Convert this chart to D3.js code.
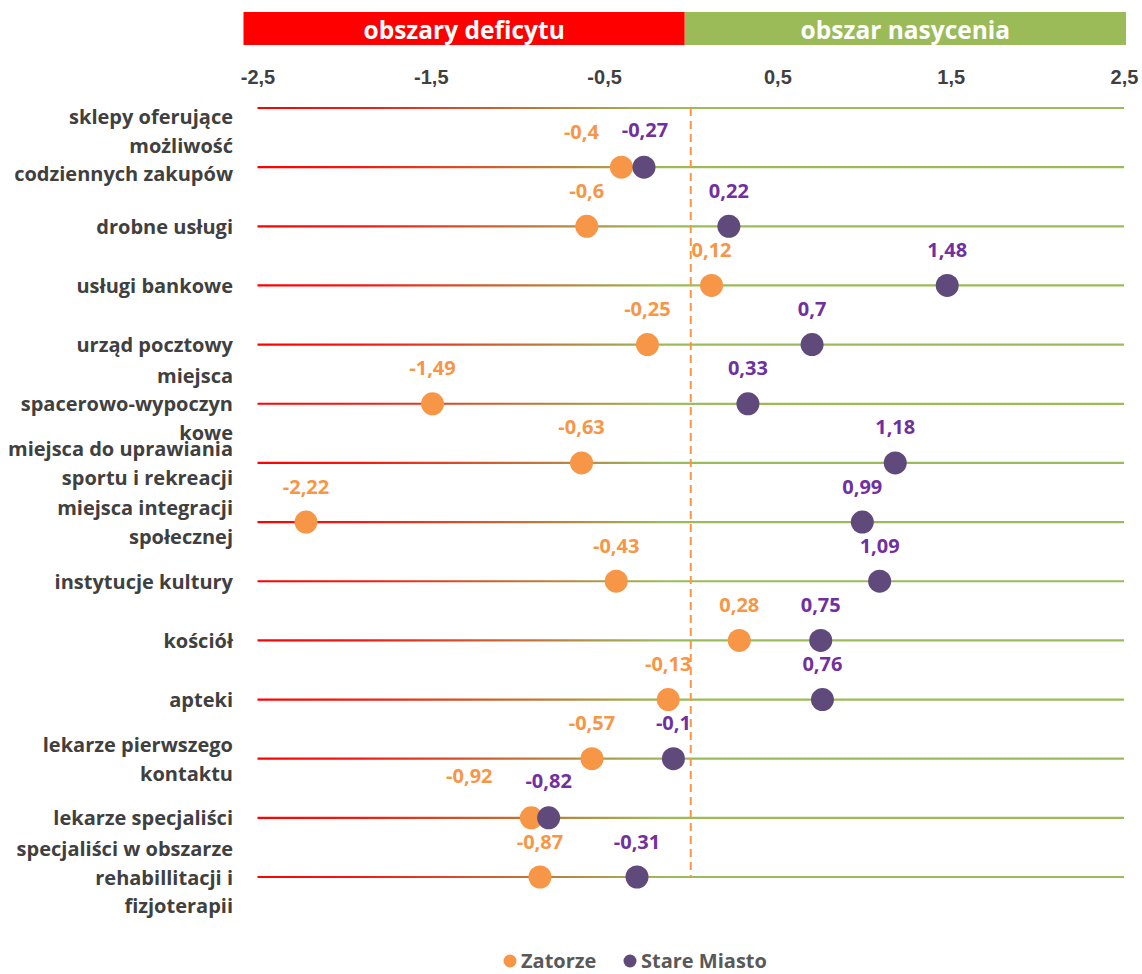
<!DOCTYPE html>
<html lang="pl">
<head>
<meta charset="utf-8">
<script src="https://cdn.jsdelivr.net/npm/d3@7"></script>
<style>
  html, body { margin: 0; padding: 0; background: #fff; }
  svg { display: block; font-family: "Open Sans", "Noto Sans", sans-serif; font-weight: 700; }
</style>
</head>
<body>
<svg id="chart" width="1142" height="974"></svg>
<script>
// Category names (line breaks as drawn on the axis)
const categories = [
  "sklepy oferujące\nmożliwość\ncodziennych zakupów",
  "drobne usługi",
  "usługi bankowe",
  "urząd pocztowy",
  "miejsca\nspacerowo-wypoczyn\nkowe",
  "miejsca do uprawiania\nsportu i rekreacji",
  "miejsca integracji\nspołecznej",
  "instytucje kultury",
  "kościół",
  "apteki",
  "lekarze pierwszego\nkontaktu",
  "lekarze specjaliści",
  "specjaliści w obszarze\nrehabillitacji i\nfizjoterapii"
];

const zatorze = [-0.4, -0.6, 0.12, -0.25, -1.49, -0.63, -2.22, -0.43, 0.28, -0.13, -0.57, -0.92, -0.87];
const stareMiasto = [-0.27, 0.22, 1.48, 0.7, 0.33, 1.18, 0.99, 1.09, 0.75, 0.76, -0.1, -0.82, -0.31];

const seriesNames = ["Zatorze", "Stare Miasto"];
const tickValues = [-2.5, -1.5, -0.5, 0.5, 1.5, 2.5];
const zoneLabels = ["obszary deficytu", "obszar nasycenia"];

// Styling
const COL_RED = "#ff0000";
const COL_GREEN = "#9bbb59";
const COL_ORANGE = "#f79646";
const COL_PURPLE_DOT = "#604a7b";
const COL_PURPLE_TXT = "#7030a0";
const COL_TEXT = "#404040";

const svg = d3.select("#chart");

const x = d3.scaleLinear().domain([-2.5, 2.5]).range([257.5, 1124]);
// one empty slot above the first category
const y = d3.scalePoint().domain(d3.range(categories.length + 1)).range([108, 877]);
const rowY = i => y(i + 1);

// zone header
const hdrTop = 12, hdrH = 33;
const hdrL = x(-2.5) - 14, hdrM = x(0) - 6, hdrR = x(2.5) + 2;
svg.append("rect").attr("x", hdrL).attr("y", hdrTop).attr("width", hdrM - hdrL).attr("height", hdrH).attr("fill", COL_RED);
svg.append("rect").attr("x", hdrM).attr("y", hdrTop).attr("width", hdrR - hdrM).attr("height", hdrH).attr("fill", COL_GREEN);
svg.append("text").attr("x", (hdrL + hdrM) / 2).attr("y", hdrTop + hdrH / 2 + 1)
  .attr("text-anchor", "middle").attr("dominant-baseline", "central")
  .attr("fill", "#fff").attr("font-size", 24.5).text(zoneLabels[0]);
svg.append("text").attr("x", (hdrM + hdrR) / 2).attr("y", hdrTop + hdrH / 2 + 1)
  .attr("text-anchor", "middle").attr("dominant-baseline", "central")
  .attr("fill", "#fff").attr("font-size", 24.5).text(zoneLabels[1]);

// top value axis
const fmt = v => String(v).replace(".", ",");
const axis = svg.append("g").attr("transform", "translate(0,77)")
  .call(d3.axisTop(x).tickValues(tickValues).tickFormat(fmt).tickSize(0).tickPadding(0));
axis.select(".domain").remove();
axis.selectAll("text").attr("dominant-baseline", "central").attr("dy", 0)
  .attr("fill", COL_TEXT).attr("font-size", 20).attr("font-family", null).attr("font-weight", 700);

// red-to-green gradient for the row lines
const defs = svg.append("defs");
const grad = defs.append("linearGradient").attr("id", "rowGrad")
  .attr("gradientUnits", "userSpaceOnUse")
  .attr("x1", x(-2.5)).attr("x2", x(2.5)).attr("y1", 0).attr("y2", 0);
grad.append("stop").attr("offset", 0).attr("stop-color", COL_RED);
grad.append("stop").attr("offset", 0.12).attr("stop-color", "#f41a10");
grad.append("stop").attr("offset", 0.47).attr("stop-color", COL_GREEN);
grad.append("stop").attr("offset", 1).attr("stop-color", COL_GREEN);

svg.append("g").selectAll("line").data(y.domain()).join("line")
  .attr("x1", x(-2.5)).attr("x2", x(2.5))
  .attr("y1", d => y(d)).attr("y2", d => y(d) + 0.01)
  .attr("stroke", "url(#rowGrad)").attr("stroke-width", 2.2);

// zero reference
svg.append("line").attr("x1", x(0)).attr("x2", x(0))
  .attr("y1", y(0)).attr("y2", y(categories.length))
  .attr("stroke", COL_ORANGE).attr("stroke-width", 2).attr("stroke-dasharray", "8,5");

// category labels
const labelShift = { 0: -22 };
const lineH = 28.7;
const catG = svg.append("g");
categories.forEach((c, i) => {
  const lines = c.split("\n");
  const cy = rowY(i) + (labelShift[i] || 0);
  const t = catG.append("text").attr("text-anchor", "end").attr("fill", COL_TEXT).attr("font-size", 20);
  lines.forEach((ln, k) => {
    t.append("tspan").attr("x", 233)
      .attr("y", cy + (k - (lines.length - 1) / 2) * lineH)
      .attr("dominant-baseline", "central").text(ln);
  });
});

// dots
const R = 11.5;
svg.append("g").selectAll("circle").data(zatorze).join("circle")
  .attr("cx", d => x(d)).attr("cy", (d, i) => rowY(i)).attr("r", R).attr("fill", COL_ORANGE);
svg.append("g").selectAll("circle").data(stareMiasto).join("circle")
  .attr("cx", d => x(d)).attr("cy", (d, i) => rowY(i)).attr("r", R).attr("fill", COL_PURPLE_DOT);

// value labels (a few nudged apart to avoid collisions)
const nudgeZ = { 0: [-40, 0], 11: [-62, -6] };
const nudgeS = { 0: [1, -2], 11: [0, -1] };
const labelUp = 36;
svg.append("g").selectAll("text").data(zatorze).join("text")
  .attr("x", (d, i) => x(d) + (nudgeZ[i] ? nudgeZ[i][0] : 0))
  .attr("y", (d, i) => rowY(i) - labelUp + (nudgeZ[i] ? nudgeZ[i][1] : 0))
  .attr("text-anchor", "middle").attr("dominant-baseline", "central")
  .attr("fill", COL_ORANGE).attr("font-size", 20).text(fmt);
svg.append("g").selectAll("text").data(stareMiasto).join("text")
  .attr("x", (d, i) => x(d) + (nudgeS[i] ? nudgeS[i][0] : 0))
  .attr("y", (d, i) => rowY(i) - labelUp + (nudgeS[i] ? nudgeS[i][1] : 0))
  .attr("text-anchor", "middle").attr("dominant-baseline", "central")
  .attr("fill", COL_PURPLE_TXT).attr("font-size", 20).text(fmt);

// legend
const legY = 960;
const legend = svg.append("g");
const legItems = [
  { name: seriesNames[0], color: COL_ORANGE, cx: 510 },
  { name: seriesNames[1], color: COL_PURPLE_DOT, cx: 630 }
];
legItems.forEach(it => {
  legend.append("circle").attr("cx", it.cx).attr("cy", legY + 1).attr("r", 6.5).attr("fill", it.color);
  legend.append("text").attr("x", it.cx + 11).attr("y", legY).attr("dominant-baseline", "central")
    .attr("fill", "#595959").attr("font-size", 20).text(it.name);
});
</script>
</body>
</html>
